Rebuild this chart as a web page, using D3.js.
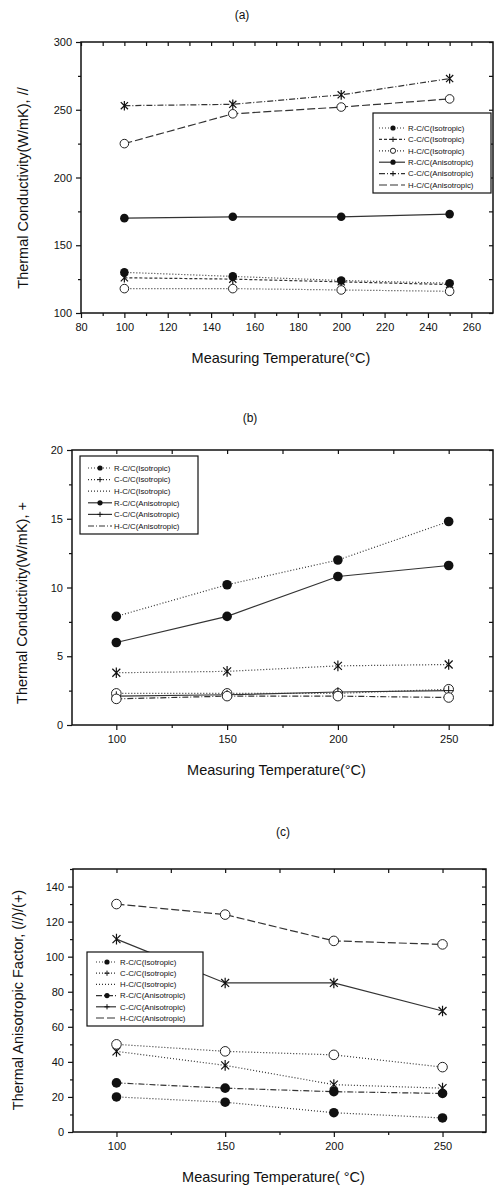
<!DOCTYPE html>
<html>
	<head>
		<meta http-equiv="Content-Type" content="text/html;charset=utf-8"/>
		<title>Thermal conductivity</title>
		<script src="https://d3js.org/d3.v7.min.js"></script>
		<style type="text/css">
			body { margin: 0; background: #fff; }
			text { font-family: "Liberation Sans", Arial, sans-serif; fill: #111; }
			.tick text { font-size: 11px; }
			.tick line { stroke: #111; stroke-width: 1.2; }
			.domain { display: none; }
		</style>
	</head>
	<body>
		<script type="text/javascript">

			//Measuring temperatures (x values, shared by all panels)
			var temps = [100, 150, 200, 250];

			//Legend names
			var names = ["R-C/C(Isotropic)", "C-C/C(Isotropic)", "H-C/C(Isotropic)",
						 "R-C/C(Anisotropic)", "C-C/C(Anisotropic)", "H-C/C(Anisotropic)"];

			//(a) thermal conductivity, parallel
			var aRIso   = [130, 127, 124, 122];
			var aCIso   = [126, 125, 123, 121];
			var aHIso   = [118, 118, 117, 116];
			var aRAniso = [170, 171, 171, 173];
			var aCAniso = [253, 254, 261, 273];
			var aHAniso = [225, 247, 252, 258];

			//(b) thermal conductivity, perpendicular
			var bRIso   = [7.9, 10.2, 12.0, 14.8];
			var bCIso   = [3.8, 3.9, 4.3, 4.4];
			var bHIso   = [2.3, 2.3, 2.3, 2.6];
			var bRAniso = [6.0, 7.9, 10.8, 11.6];
			var bCAniso = [2.1, 2.2, 2.4, 2.5];
			var bHAniso = [1.9, 2.1, 2.1, 2.0];

			//(c) thermal anisotropic factor
			var cRIso   = [20, 17, 11, 8];
			var cCIso   = [46, 38, 27, 25];
			var cHIso   = [50, 46, 44, 37];
			var cRAniso = [28, 25, 23, 22];
			var cCAniso = [110, 85, 85, 69];
			var cHAniso = [130, 124, 109, 107];

			//Tick values
			var xMajorA = [80, 100, 120, 140, 160, 180, 200, 220, 240, 260];
			var xMinorA = [90, 110, 130, 150, 170, 190, 210, 230, 250];
			var xMajorBC = [100, 150, 200, 250];
			var xMinorBC = [125, 175, 225];
			var yMajorA = [100, 150, 200, 250, 300];
			var yMinorA = [125, 175, 225, 275];
			var yMajorB = [0, 5, 10, 15, 20];
			var yMinorB = [2.5, 7.5, 12.5, 17.5];
			var yMajorC = [0, 20, 40, 60, 80, 100, 120, 140];
			var yMinorC = [10, 30, 50, 70, 90, 110, 130, 150];

			//Line dash patterns
			var DOT = "1,2", DASH = "3,2", DASHDOT = "6,2,1,2", LONG = "8,3", SOLID = null;

			var svg = d3.select("body").append("svg")
						.attr("width", 499)
						.attr("height", 1189);

			//Draw one marker at the origin of a group
			function marker(g, type, r) {
				if (type == "filled") {
					g.append("circle").attr("r", r).attr("fill", "#111");
				} else if (type == "open") {
					g.append("circle").attr("r", r).attr("fill", "#fff")
						.attr("stroke", "#222").attr("stroke-width", 1);
				} else if (type == "star") {
					var s = r + 0.5, d = s * 0.75;
					g.append("path")
						.attr("d", "M0," + (-s) + "L0," + s +
								   "M" + (-d) + "," + (-d) + "L" + d + "," + d +
								   "M" + (-d) + "," + d + "L" + d + "," + (-d))
						.attr("stroke", "#111").attr("stroke-width", 1.2);
				} else if (type == "plus") {
					g.append("path")
						.attr("d", "M0," + (-r) + "L0," + r + "M" + (-r) + ",0L" + r + ",0")
						.attr("stroke", "#111").attr("stroke-width", 1);
				}
			}

			function panel(p) {
				var x = d3.scaleLinear().domain([80, 270]).range([p.left, p.right]);
				var y = d3.scaleLinear().domain(p.yDomain).range([p.bottom, p.top]);
				var g = svg.append("g");

				//frame
				g.append("rect")
					.attr("x", p.left).attr("y", p.top)
					.attr("width", p.right - p.left).attr("height", p.bottom - p.top)
					.attr("fill", "none").attr("stroke", "#111").attr("stroke-width", 1.5);

				//axes: bottom/left ticks outward with labels, top/right inward
				g.append("g").attr("transform", "translate(0," + p.bottom + ")")
					.call(d3.axisBottom(x).tickValues(p.xMajor).tickSize(5).tickPadding(5).tickFormat(d3.format("d")));
				g.append("g").attr("transform", "translate(0," + p.bottom + ")")
					.call(d3.axisBottom(x).tickValues(p.xMinor).tickSize(3).tickFormat(""));
				g.append("g").attr("transform", "translate(0," + p.top + ")")
					.call(d3.axisTop(x).tickValues(p.xMajor.concat(p.xMinor)).tickSize(-4).tickFormat(""));
				g.append("g").attr("transform", "translate(" + p.left + ",0)")
					.call(d3.axisLeft(y).tickValues(p.yMajor).tickSize(5).tickPadding(4).tickFormat(d3.format("d")));
				g.append("g").attr("transform", "translate(" + p.left + ",0)")
					.call(d3.axisLeft(y).tickValues(p.yMinor).tickSize(3).tickFormat(""));
				g.append("g").attr("transform", "translate(" + p.right + ",0)")
					.call(d3.axisRight(y).tickValues(p.yMajor.concat(p.yMinor)).tickSize(-4).tickFormat(""));

				//titles
				g.append("text").attr("x", p.titleX).attr("y", p.titleY)
					.attr("text-anchor", "middle").attr("font-size", 12).text(p.title);
				g.append("text").attr("x", (p.left + p.right) / 2 - 6).attr("y", p.bottom + 50)
					.attr("text-anchor", "middle").attr("font-size", 14.5).text(p.xLabel);
				g.append("text")
					.attr("transform", "translate(" + p.yLabelX + "," + p.yLabelY + ") rotate(-90)")
					.attr("text-anchor", "middle").attr("font-size", 14.5).text(p.yLabel);

				//series
				var line = d3.line()
					.x(function(d, i) { return x(temps[i]); })
					.y(function(d) { return y(d); });

				p.series.forEach(function(s) {
					g.append("path").datum(s.values)
						.attr("d", line)
						.attr("fill", "none")
						.attr("stroke", "#333")
						.attr("stroke-width", 1.2)
						.attr("stroke-dasharray", s.dash);
				});
				p.series.forEach(function(s) {
					s.values.forEach(function(v, i) {
						var m = g.append("g").attr("transform", "translate(" + x(temps[i]) + "," + y(v) + ")");
						marker(m, s.mark, p.r);
					});
				});

				//legend
				var L = p.legend;
				g.append("rect").attr("x", L.x).attr("y", L.y).attr("width", L.w).attr("height", L.h)
					.attr("fill", "#fff").attr("stroke", "#111").attr("stroke-width", 1.2);
				p.series.forEach(function(s, i) {
					var ry = L.row0 + i * L.step;
					g.append("line").attr("x1", L.lx0).attr("x2", L.lx1).attr("y1", ry).attr("y2", ry)
						.attr("stroke", "#333").attr("stroke-width", 1.2).attr("stroke-dasharray", s.dash);
					if (s.legendMark) {
						var m = g.append("g").attr("transform", "translate(" + L.mx + "," + ry + ")");
						marker(m, s.legendMark, 2.6);
					}
					g.append("text").attr("x", L.tx).attr("y", ry + 2.7)
						.attr("font-size", 7.8).text(names[i]);
				});
			}

			panel({
				title: "(a)", titleX: 242, titleY: 19,
				left: 81, right: 493, top: 42, bottom: 313,
				yDomain: [100, 300],
				xMajor: xMajorA, xMinor: xMinorA, yMajor: yMajorA, yMinor: yMinorA,
				xLabel: "Measuring Temperature(\u00B0C)",
				yLabel: "Thermal Conductivity(W/mK), //", yLabelX: 28, yLabelY: 188,
				r: 4.3,
				series: [
					{ values: aRIso,   dash: DOT,     mark: "filled", legendMark: "filled" },
					{ values: aCIso,   dash: DASH,    mark: "star",   legendMark: "plus" },
					{ values: aHIso,   dash: DOT,     mark: "open",   legendMark: "open" },
					{ values: aRAniso, dash: SOLID,   mark: "filled", legendMark: "filled" },
					{ values: aCAniso, dash: DASHDOT, mark: "star",   legendMark: "plus" },
					{ values: aHAniso, dash: LONG,    mark: "open",   legendMark: null }
				],
				legend: { x: 373, y: 113, w: 118, h: 80, row0: 128, step: 11.4,
						  lx0: 379, lx1: 405, mx: 393, tx: 408 }
			});

			panel({
				title: "(b)", titleX: 250, titleY: 422,
				left: 72, right: 493, top: 450, bottom: 725,
				yDomain: [0, 20],
				xMajor: xMajorBC, xMinor: xMinorBC, yMajor: yMajorB, yMinor: yMinorB,
				xLabel: "Measuring Temperature(\u00B0C)",
				yLabel: "Thermal Conductivity(W/mK), +", yLabelX: 27, yLabelY: 603,
				r: 4.8,
				series: [
					{ values: bRIso,   dash: DOT,     mark: "filled", legendMark: "filled" },
					{ values: bCIso,   dash: DOT,     mark: "star",   legendMark: "plus" },
					{ values: bHIso,   dash: DOT,     mark: "open",   legendMark: null },
					{ values: bRAniso, dash: SOLID,   mark: "filled", legendMark: "filled" },
					{ values: bCAniso, dash: SOLID,   mark: "plus",   legendMark: "plus" },
					{ values: bHAniso, dash: DASHDOT, mark: "open",   legendMark: null }
				],
				legend: { x: 80, y: 456, w: 118, h: 78, row0: 468, step: 11.6,
						  lx0: 88, lx1: 112, mx: 100, tx: 114 }
			});

			panel({
				title: "(c)", titleX: 283, titleY: 836,
				left: 73, right: 486, top: 869, bottom: 1132,
				yDomain: [0, 150],
				xMajor: xMajorBC, xMinor: xMinorBC, yMajor: yMajorC, yMinor: yMinorC,
				xLabel: "Measuring Temperature( \u00B0C)",
				yLabel: "Thermal Anisotropic Factor, (//)/(+)", yLabelX: 23, yLabelY: 1000,
				r: 4.8,
				series: [
					{ values: cRIso,   dash: DOT,     mark: "filled", legendMark: "filled" },
					{ values: cCIso,   dash: DOT,     mark: "star",   legendMark: "plus" },
					{ values: cHIso,   dash: DOT,     mark: "open",   legendMark: null },
					{ values: cRAniso, dash: DASHDOT, mark: "filled", legendMark: "filled" },
					{ values: cCAniso, dash: SOLID,   mark: "star",   legendMark: "plus" },
					{ values: cHAniso, dash: LONG,    mark: "open",   legendMark: null }
				],
				legend: { x: 87, y: 952, w: 116, h: 74, row0: 962, step: 11.2,
						  lx0: 96, lx1: 116, mx: 107, tx: 120 }
			});

		</script>
	</body>
</html>
